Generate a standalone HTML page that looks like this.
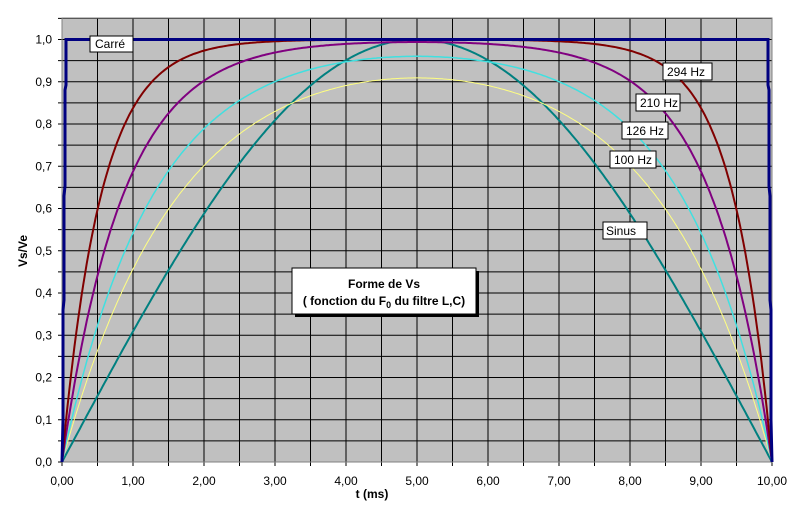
<!DOCTYPE html>
<html><head><meta charset="utf-8"><style>
body{margin:0;background:#fff;}
svg text{font-family:"Liberation Sans",Arial,sans-serif;}
</style></head><body>
<svg id="s" width="796" height="510" xmlns="http://www.w3.org/2000/svg">
<rect x="0" y="0" width="796" height="510" fill="#fff"/>
<rect x="62" y="18" width="710" height="444" fill="#c0c0c0"/>
<g id="grid" stroke="#000" stroke-width="1"></g>
<rect x="62" y="18" width="710" height="444" fill="none" stroke="#808080"/>
<g id="curves" fill="none"></g>
<g id="labels" font-size="12" fill="#000"></g>
<rect x="90" y="36" width="43" height="16" fill="#fff" stroke="#000"/>
<text x="95" y="48" font-size="12">Carré</text>
<rect x="663" y="63" width="49" height="17" fill="#fff" stroke="#000"/>
<text x="667" y="76" font-size="12">294 Hz</text>
<rect x="636" y="94" width="44" height="17" fill="#fff" stroke="#000"/>
<text x="640" y="107" font-size="12">210 Hz</text>
<rect x="622" y="122" width="46" height="17" fill="#fff" stroke="#000"/>
<text x="626" y="135" font-size="12">126 Hz</text>
<rect x="610" y="151" width="46" height="17" fill="#fff" stroke="#000"/>
<text x="614" y="164" font-size="12">100 Hz</text>
<rect x="603" y="222" width="44" height="17" fill="#fff" stroke="#000"/>
<text x="606" y="235" font-size="12">Sinus</text>
<rect x="295" y="271" width="184" height="46" fill="#000"/>
<rect x="292" y="268" width="184" height="46" fill="#fff" stroke="#000"/>
<text x="384" y="288" font-size="12" font-weight="bold" text-anchor="middle">Forme de Vs</text>
<text x="384" y="305" font-size="12" font-weight="bold" text-anchor="middle">( fonction du F<tspan font-size="9" dy="3">0</tspan><tspan dy="-3"> du filtre L,C)</tspan></text>
<text x="372" y="498" font-size="12" font-weight="bold" text-anchor="middle">t (ms)</text>
<text transform="translate(27,251) rotate(-90)" font-size="12" font-weight="bold" text-anchor="middle">Vs/Ve</text>
</svg>
<script>
var X=function(t){return 62+t*71;},Y=function(v){return 462-v*422.5;};
var g=document.getElementById('grid'),h='';
for(var i=1;i<20;i++){var x=X(i*0.5);h+='<line x1="'+x+'" y1="18" x2="'+x+'" y2="466"/>';}
for(var j=1;j<=21;j++){var y=Y(j*0.05);h+='<line x1="58" y1="'+y+'" x2="772" y2="'+y+'"/>';}
h+='<line x1="62" y1="18" x2="62" y2="462"/><line x1="58" y1="462" x2="772" y2="462"/>';
for(var i=0;i<=10;i++)h+='<line x1="'+X(i)+'" y1="462" x2="'+X(i)+'" y2="466"/>';
g.innerHTML=h;
var c='';
function path(f,col,w){var d='';for(var k=0;k<=400;k++){var t=k*10/400;d+=(k?'L':'M')+X(t).toFixed(1)+' '+Y(f(t)).toFixed(1);}return '<path d="'+d+'" stroke="'+col+'" stroke-width="'+w+'"/>';}
function lp(tau){return function(t){return (1-Math.exp(-t/tau))*(1-Math.exp(-(10-t)/tau));};}
c+=path(function(t){return Math.sin(Math.PI*t/10);},'#008080',2);
c+=path(lp(1.63),'#ffff80',1);
c+=path(lp(1.28),'#40e0e0',1.5);
c+=path(lp(0.86),'#800080',2);
c+=path(lp(0.55),'#800000',2);
c+='<path d="M62 462 L63 420 L63 310 L64 300 L64 196 L65 186 L65 90 L66 85 L66 39.5 L768 39.5 L768 85 L769 90 L769 186 L770 196 L770 300 L771 310 L771 420 L772 462" stroke="#000080" stroke-width="3"/>';
document.getElementById('curves').innerHTML=c;
var l='';
for(var j=0;j<=10;j++){l+='<text x="52" y="'+(Y(j/10)+4)+'" text-anchor="end">'+(j==10?'1,0':'0,'+j)+'</text>';}
for(var i=0;i<=10;i++){l+='<text x="'+X(i)+'" y="485" text-anchor="middle">'+i+',00</text>';}
document.getElementById('labels').innerHTML=l;
</script>
</body></html>
